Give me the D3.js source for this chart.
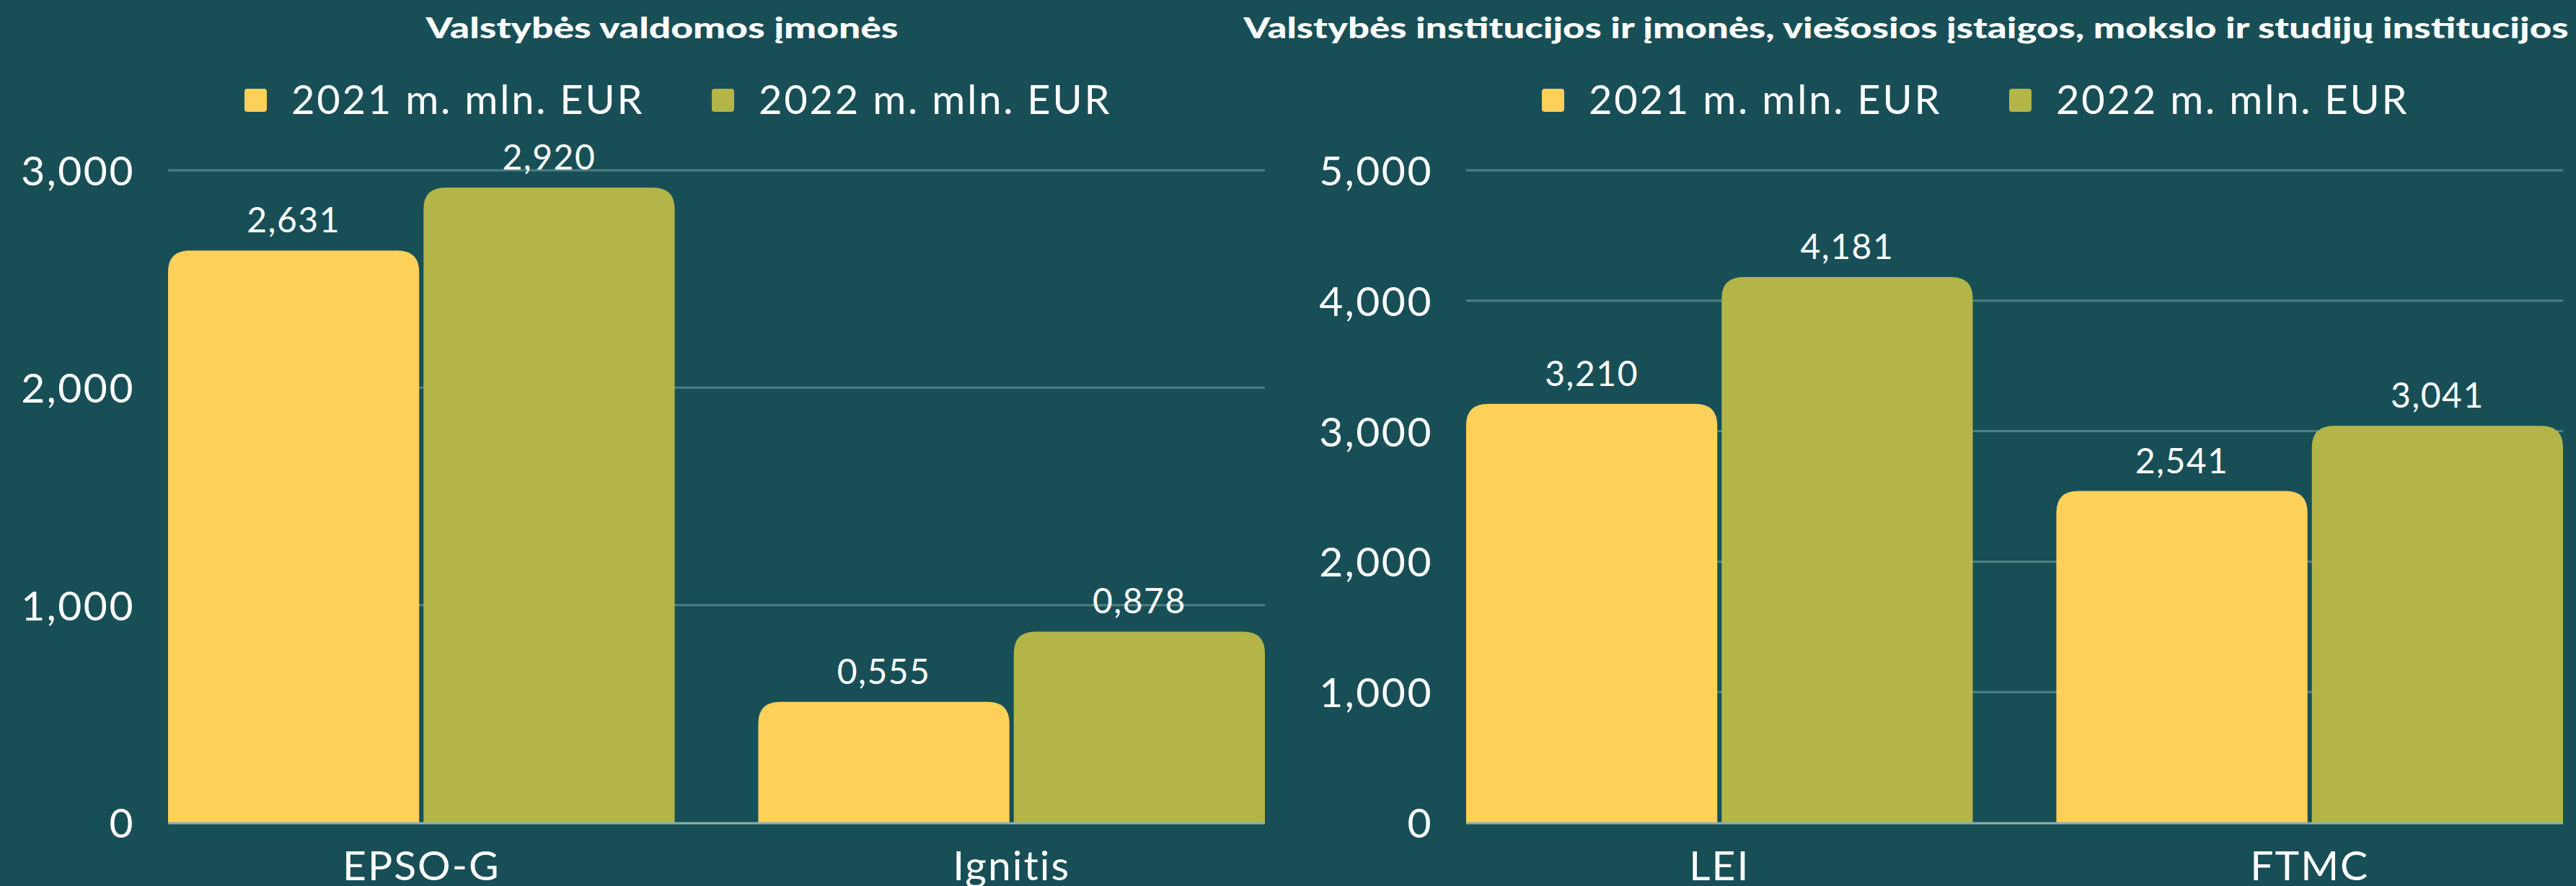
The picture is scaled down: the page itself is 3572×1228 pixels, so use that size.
<!DOCTYPE html>
<html>
<head>
<meta charset="utf-8">
<script src="https://cdn.jsdelivr.net/npm/d3@7"></script>
<style>
  body { margin: 0; background: #184f57; }
  svg { display: block; font-family: Lato, "Open Sans", sans-serif; }
</style>
</head>
<body>
<script>
// data
let seriesNames = ["2021 m. mln. EUR", "2022 m. mln. EUR"];
let colors = ["#fdd05a", "#b3b548"];

let leftTitle = "Valstybės valdomos įmonės";
let leftCats = ["EPSO-G", "Ignitis"];
let left2021 = [2631, 555];
let left2022 = [2920, 878];
let leftLabels2021 = ["2,631", "0,555"];
let leftLabels2022 = ["2,920", "0,878"];
let leftTicks = [0, 1000, 2000, 3000];

let rightTitle = "Valstybės institucijos ir įmonės, viešosios įstaigos, mokslo ir studijų institucijos";
let rightCats = ["LEI", "FTMC"];
let right2021 = [3210, 2541];
let right2022 = [4181, 3041];
let rightLabels2021 = ["3,210", "2,541"];
let rightLabels2022 = ["4,181", "3,041"];
let rightTicks = [0, 1000, 2000, 3000, 4000, 5000];

let W = 3572, H = 1228;
let svg = d3.select("body").append("svg")
  .attr("width", W).attr("height", H);

svg.append("rect").attr("width", W).attr("height", H).attr("fill", "#184f57");

let fmt = d3.format(",");

// bar with rounded top corners only
function roundTop(x, y, w, h, r){
  r = Math.min(r, h, w/2);
  return "M" + x + "," + (y+h) +
    "V" + (y+r) +
    "Q" + x + "," + y + " " + (x+r) + "," + y +
    "H" + (x+w-r) +
    "Q" + (x+w) + "," + y + " " + (x+w) + "," + (y+r) +
    "V" + (y+h) + "Z";
}

function drawPanel(opt){
  let g = svg.append("g");

  // title
  g.append("text")
    .attr("x", opt.titleX).attr("y", 53)
    .attr("text-anchor", "middle")
    .attr("fill", "#fff")
    .attr("font-size", 40)
    .attr("font-weight", 900)
    .attr("textLength", opt.titleLen)
    .attr("lengthAdjust", "spacingAndGlyphs")
    .text(opt.title);

  // legend
  opt.legendX.forEach((lx, i) => {
    g.append("rect")
      .attr("x", lx).attr("y", 123)
      .attr("width", 31).attr("height", 32).attr("rx", 4)
      .attr("fill", colors[i]);
    g.append("text")
      .attr("x", lx + 65).attr("y", 158)
      .attr("fill", "#fff")
      .attr("font-size", 56)
      .attr("letter-spacing", 2.8)
      .text(seriesNames[i]);
  });

  let y = d3.scaleLinear().domain([0, opt.max]).range([1140, 236]);
  let x0 = d3.scaleBand().domain(opt.cats)
    .range([opt.x0, opt.x1]).paddingInner(0.1416).paddingOuter(0);
  let x1 = d3.scaleBand().domain([0, 1])
    .range([0, x0.bandwidth()]).paddingInner(0.017);

  // gridlines
  g.append("g").selectAll("line")
    .data(opt.ticks.filter(d => d > 0))
    .join("line")
      .attr("x1", opt.x0).attr("x2", opt.x1)
      .attr("y1", d => y(d)).attr("y2", d => y(d))
      .attr("stroke", "#4f7f84").attr("stroke-width", 3);

  // y axis labels
  let yAxis = d3.axisLeft(y).tickValues(opt.ticks).tickFormat(fmt).tickSize(0).tickPadding(46);
  let ya = g.append("g").attr("transform", "translate(" + opt.x0 + ",0)").call(yAxis);
  ya.select(".domain").remove();
  ya.selectAll("text").attr("fill", "#fff").attr("font-size", 57)
    .attr("font-family", "Lato, sans-serif").attr("letter-spacing", 2.5)
    .attr("dy", "0.36em");

  // bars
  let vals = [opt.v2021, opt.v2022];
  let labs = [opt.l2021, opt.l2022];
  let groups = g.append("g").selectAll("g")
    .data(opt.cats)
    .join("g")
      .attr("transform", d => "translate(" + x0(d) + ",0)");

  groups.each(function(c, ci){
    let gg = d3.select(this);
    [0, 1].forEach(si => {
      let v = vals[si][ci];
      gg.append("path")
        .attr("d", roundTop(x1(si), y(v), x1.bandwidth(), y(0) - y(v), 30))
        .attr("fill", colors[si]);
      gg.append("text")
        .attr("x", x1(si) + x1.bandwidth()/2)
        .attr("y", y(v) - 25)
        .attr("text-anchor", "middle")
        .attr("fill", "#fff")
        .attr("font-size", 48)
        .attr("letter-spacing", 1.5)
        .text(labs[si][ci]);
    });
  });

  // baseline
  g.append("line")
    .attr("x1", opt.x0).attr("x2", opt.x1)
    .attr("y1", y(0) + 1).attr("y2", y(0) + 1)
    .attr("stroke", "#8fb0b0").attr("stroke-width", 3);

  // category axis
  let xAxis = d3.axisBottom(x0).tickSize(0).tickPadding(40);
  let xa = g.append("g").attr("transform", "translate(0," + y(0) + ")").call(xAxis);
  xa.select(".domain").remove();
  xa.selectAll("text").attr("fill", "#fff").attr("font-size", 57)
    .attr("font-family", "Lato, sans-serif").attr("letter-spacing", 2);
}

drawPanel({
  title: leftTitle, titleX: 918, titleLen: 655,
  legendX: [339, 987],
  cats: leftCats, v2021: left2021, v2022: left2022,
  l2021: leftLabels2021, l2022: leftLabels2022,
  ticks: leftTicks, max: 3000,
  x0: 233, x1: 1754
});

drawPanel({
  title: rightTitle, titleX: 2643, titleLen: 1837,
  legendX: [2138, 2786],
  cats: rightCats, v2021: right2021, v2022: right2022,
  l2021: rightLabels2021, l2022: rightLabels2022,
  ticks: rightTicks, max: 5000,
  x0: 2033, x1: 3554
});
</script>
</body>
</html>
